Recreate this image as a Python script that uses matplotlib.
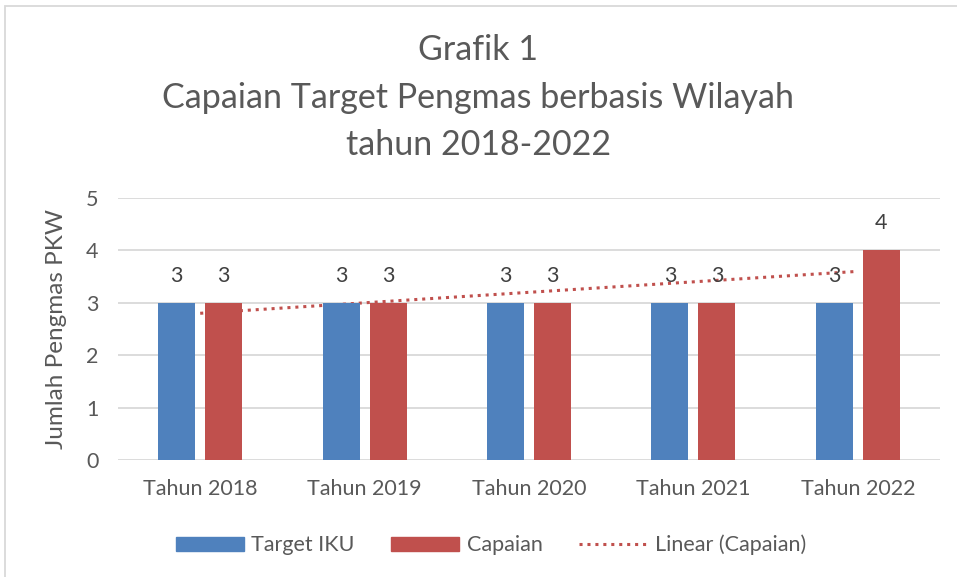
import numpy as np
import matplotlib.pyplot as plt
from matplotlib.patches import Rectangle
from matplotlib.lines import Line2D

categories = ['Tahun 2018', 'Tahun 2019', 'Tahun 2020', 'Tahun 2021', 'Tahun 2022']
target_iku = [3, 3, 3, 3, 3]
capaian = [3, 3, 3, 3, 4]

BLUE = '#4F81BD'
RED = '#C0504D'
TXT = '#595959'
FONT = ['Lato', 'DejaVu Sans']

plt.rcParams['font.family'] = FONT

fig = plt.figure(figsize=(9.57, 5.77), dpi=100)
W, H = 957, 577
ax = fig.add_axes([118 / W, 1 - 460 / H, (940 - 118) / W, (460 - 198) / H])

x = np.arange(len(categories))
bw = 0.225
off = 0.143
ax.bar(x - off, target_iku, bw, color=BLUE, zorder=3)
ax.bar(x + off, capaian, bw, color=RED, zorder=3)

# linear trendline of Capaian
k, b = np.polyfit(x, capaian, 1)
ax.plot(x, k * x + b, color=RED, linestyle=(0, (1, 1.6)), linewidth=2.2, zorder=2)

for xi, v in zip(x, target_iku):
    ax.text(xi - off, v + 0.52, str(v), ha='center', va='center', fontsize=15.5, color='#404040', zorder=5)
for xi, v in zip(x, capaian):
    ax.text(xi + off, v + 0.52, str(v), ha='center', va='center', fontsize=15.5, color='#404040', zorder=5)

ax.set_xlim(-0.5, 4.5)
ax.set_ylim(0, 5)
ax.set_yticks(range(6))
ax.grid(axis='y', color='#D9D9D9', linewidth=1.3, zorder=0)
ax.set_axisbelow(True)
for s in ax.spines.values():
    s.set_visible(False)
ax.tick_params(length=0, labelsize=15.5, colors=TXT, pad=14)
ax.set_xticks(x)
ax.set_xticklabels(categories)
ax.tick_params(axis='x', pad=14)
ax.set_ylabel('Jumlah Pengmas PKW', fontsize=17.5, color=TXT, labelpad=14)

fig.text(0.5, 1 - 50 / H, 'Grafik 1', ha='center', va='center', fontsize=24.5, color=TXT)
fig.text(0.5, 1 - 98 / H, 'Capaian Target Pengmas berbasis Wilayah', ha='center', va='center', fontsize=24.5, color=TXT)
fig.text(0.5, 1 - 145 / H, 'tahun 2018-2022', ha='center', va='center', fontsize=24.5, color=TXT)

# chart border
fig.patches.append(Rectangle((5 / W, -0.1), 1.2, 1 - 6 / H + 0.1, transform=fig.transFigure,
                             fill=False, edgecolor='#D9D9D9', linewidth=1.3))

# legend
handles = [Rectangle((0, 0), 1, 1, color=BLUE), Rectangle((0, 0), 1, 1, color=RED),
           Line2D([], [], color=RED, linestyle=(0, (1, 1.6)), linewidth=2.2)]
fig.legend(handles, ['Target IKU', 'Capaian', 'Linear (Capaian)'], loc='center',
           bbox_to_anchor=(0.513, 1 - 545 / H), ncol=3, frameon=False, fontsize=15.5,
           labelcolor=TXT, handlelength=3.15, handleheight=0.65, columnspacing=1.7, handletextpad=0.35)

fig.savefig('out.png', dpi=100)
